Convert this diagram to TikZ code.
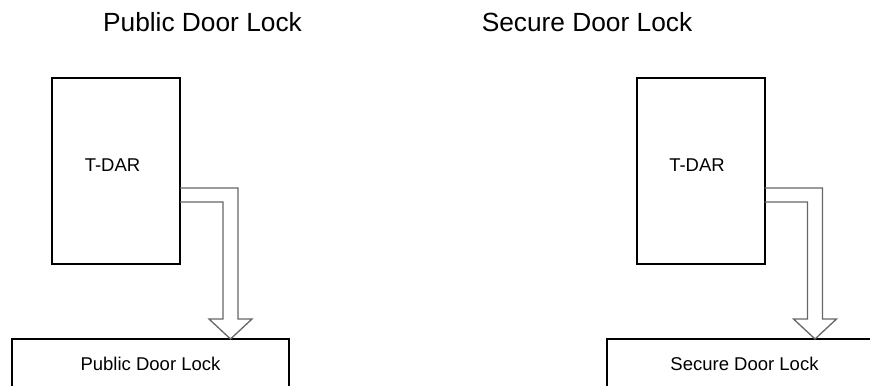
\documentclass[tikz,border=0pt]{standalone}
\usepackage{fontspec}
\setmainfont{Liberation Sans}
\usetikzlibrary{calc}
\newcommand{\lockarrow}[2]{%
\draw [flow] ($(#1.north east)+(0,110)$) -- ($(#1.north east)+(58,110)$)
  -- ($(#1.north east |- #2.north)+(58,-20)$) -- ($(#1.north east |- #2.north)+(72,-20)$)
  -- ($(#1.north east |- #2.north)+(50.5,0)$) -- ($(#1.north east |- #2.north)+(29,-20)$)
  -- ($(#1.north east |- #2.north)+(43,-20)$) -- ($(#1.north east)+(43,124)$)
  -- ($(#1.north east)+(0,124)$);}
\begin{document}
\begin{tikzpicture}[x=1bp,y=-1bp,
  unit/.style={draw, line width=2bp, minimum width=128bp, minimum height=186bp, inner sep=0pt, outer sep=0pt},
  lockbox/.style={draw, line width=2bp, minimum height=50bp, inner sep=0pt, outer sep=0pt, font=\fontsize{18.5bp}{22bp}\selectfont},
  lbl/.style={inner sep=0pt, font=\fontsize{18.5bp}{22bp}\selectfont},
  heading/.style={inner sep=0pt, font=\fontsize{26.3bp}{30bp}\selectfont},
  flow/.style={draw=black!60, line width=1.3bp, line join=miter}]
\useasboundingbox (0,0) rectangle (870,385);
\clip (0,0) rectangle (870,385);
% public door lock
\node [heading] (titleA) at (202.5,22) {Public Door Lock};
\node [unit] (tdarA) at (116,171) {};
\node [lbl] (tdarAtext) at (112.5,165) {T-DAR};
\node [lockbox, minimum width=277bp] (lockA) at (150.5,364) {Public Door Lock};
\lockarrow{tdarA}{lockA}
% secure door lock
\node [heading] (titleB) at (587,22) {Secure Door Lock};
\node [unit] (tdarB) at (700.5,171) {};
\node [lbl] (tdarBtext) at (697,165) {T-DAR};
\node [lockbox, minimum width=275bp] (lockB) at (744.5,364) {Secure Door Lock};
\lockarrow{tdarB}{lockB}
\end{tikzpicture}
\end{document}
